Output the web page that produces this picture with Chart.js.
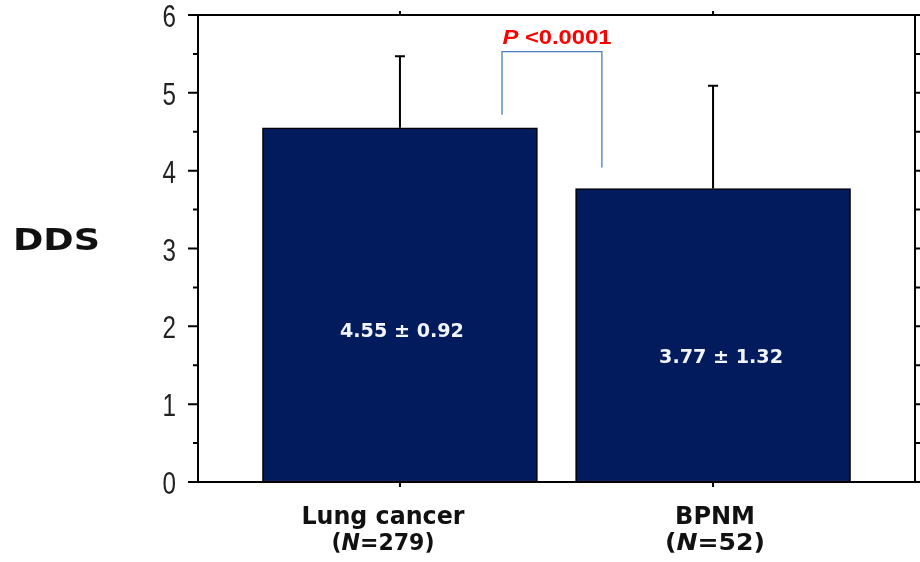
<!DOCTYPE html>
<html>
<head>
<meta charset="utf-8">
<script src="https://cdn.jsdelivr.net/npm/chart.js@4.4.1/dist/chart.umd.min.js"></script>
<style>
  html, body { margin: 0; padding: 0; background: #ffffff; }
  #wrap { width: 920px; height: 562px; position: relative; }
</style>
</head>
<body>
<div id="wrap"><canvas id="chart" width="920" height="562"></canvas></div>
<script>
// Group names, sample sizes, means and standard deviations of DDS
const categories = ['Lung cancer', 'BPNM'];
const sampleSizes = [279, 52];
const means = [4.55, 3.77];
const sds = [0.92, 1.32];
const yTickValues = [0, 1, 2, 3, 4, 5, 6];
const pValueText = '<0.0001';
const yTitle = 'DDS';

const BAR_FILL = '#021b5c';
const INK = '#000000';

// draws a sequence of text runs (each with its own font), stretched to a given width
function drawRuns(ctx, runs, cx, baseline, targetW, color) {
  ctx.save();
  ctx.fillStyle = color;
  ctx.textBaseline = 'alphabetic';
  ctx.textAlign = 'left';
  let total = 0;
  const widths = runs.map(r => { ctx.font = r.font; const w = ctx.measureText(r.t).width; total += w; return w; });
  const sx = targetW ? targetW / total : 1;
  ctx.translate(cx, baseline);
  ctx.scale(sx, 1);
  let x = -total / 2;
  runs.forEach((r, i) => { ctx.font = r.font; ctx.fillText(r.t, x, 0); x += widths[i]; });
  ctx.restore();
}

const decorations = {
  id: 'decorations',
  afterDatasetsDraw(chart) {
    const ctx = chart.ctx;
    const xs = chart.scales.x, ys = chart.scales.y;
    const area = chart.chartArea;

    // error bars (upper whisker only)
    ctx.save();
    ctx.strokeStyle = INK;
    ctx.lineWidth = 2;
    means.forEach((m, i) => {
      const px = xs.getPixelForValue(i);
      const yTop = ys.getPixelForValue(m + sds[i]);
      const yBar = ys.getPixelForValue(m);
      ctx.beginPath();
      ctx.moveTo(px, yBar); ctx.lineTo(px, yTop);
      ctx.moveTo(px - 5, yTop); ctx.lineTo(px + 5, yTop);
      ctx.stroke();
    });
    ctx.restore();

    // mean ± SD labels inside the bars
    const valueShift = [2, 8];
    means.forEach((m, i) => {
      const px = xs.getPixelForValue(i) + valueShift[i];
      const py = ys.getPixelForValue(m * 0.43) + 7;
      drawRuns(ctx, [{ t: m.toFixed(2) + ' \u00b1 ' + sds[i].toFixed(2), font: 'bold 19px "DejaVu Sans"' }],
        px, py, 124, '#f2f5ff');
    });

    // significance bracket
    ctx.save();
    ctx.strokeStyle = '#4a7cc0';
    ctx.lineWidth = 1.3;
    const bx1 = xs.getPixelForValue(0.326), bx2 = xs.getPixelForValue(0.645);
    const byTop = ys.getPixelForValue(5.53);
    ctx.beginPath();
    ctx.moveTo(bx1, ys.getPixelForValue(4.72));
    ctx.lineTo(bx1, byTop);
    ctx.lineTo(bx2, byTop);
    ctx.lineTo(bx2, ys.getPixelForValue(4.04));
    ctx.stroke();
    ctx.restore();
    drawRuns(ctx, [
      { t: 'P ', font: 'italic bold 20px "Liberation Sans"' },
      { t: pValueText, font: 'bold 20px "Liberation Sans"' }
    ], (bx1 + bx2) / 2 + 5, byTop - 8, 109, '#ff0000');

    // plot frame
    ctx.save();
    ctx.strokeStyle = INK;
    ctx.lineWidth = 2;
    ctx.strokeRect(area.left, area.top, area.right - area.left, area.bottom - area.top);

    // left axis: long ticks on integers, short ticks on halves, both outside
    ctx.beginPath();
    for (let v = 0; v <= 6; v += 0.5) {
      const py = ys.getPixelForValue(v);
      const len = Number.isInteger(v) ? 10 : 5;
      ctx.moveTo(area.left - len, py); ctx.lineTo(area.left, py);
      // right axis ticks every half unit, outside
      ctx.moveTo(area.right, py); ctx.lineTo(area.right + 5, py);
    }
    // top and bottom ticks at each group
    categories.forEach((c, i) => {
      const px = xs.getPixelForValue(i);
      ctx.moveTo(px, area.top); ctx.lineTo(px, area.top - 4);
      ctx.moveTo(px, area.bottom); ctx.lineTo(px, area.bottom + 5);
    });
    ctx.stroke();
    ctx.restore();

    // y tick labels in a narrow face
    yTickValues.forEach(v => {
      const py = ys.getPixelForValue(v) + 12;
      ctx.save();
      ctx.font = '31px "Liberation Sans"';
      ctx.fillStyle = '#222222';
      ctx.textAlign = 'right';
      ctx.textBaseline = 'alphabetic';
      ctx.translate(176, py);
      ctx.scale(0.78, 1);
      ctx.fillText(String(v), 0, 0);
      ctx.restore();
    });

    // category labels with sample sizes
    const labelShift = [-17, 2];
    const nameWidths = [163, 80];
    const sizeWidths = [103, 100];
    categories.forEach((c, i) => {
      const px = xs.getPixelForValue(i) + labelShift[i];
      drawRuns(ctx, [{ t: c, font: 'bold 24px "DejaVu Sans"' }], px, area.bottom + 42, nameWidths[i], '#111111');
      drawRuns(ctx, [
        { t: '(', font: 'bold 23px "DejaVu Sans"' },
        { t: 'N', font: 'italic bold 23px "DejaVu Sans"' },
        { t: '=' + sampleSizes[i] + ')', font: 'bold 23px "DejaVu Sans"' }
      ], px, area.bottom + 68, sizeWidths[i], '#111111');
    });

    // y axis title
    drawRuns(ctx, [{ t: yTitle, font: 'bold 30px "DejaVu Sans"' }], 56.5, 250, 87, '#111111');
  }
};

new Chart(document.getElementById('chart'), {
  type: 'bar',
  data: {
    datasets: [{
      data: categories.map((c, i) => ({ x: i, y: means[i] })),
      backgroundColor: BAR_FILL,
      borderColor: INK,
      borderWidth: 1.5,
      borderSkipped: false,
      barThickness: 275
    }]
  },
  options: {
    responsive: false,
    animation: false,
    devicePixelRatio: 1,
    layout: { padding: { top: 15, right: 5, left: 0, bottom: 0 } },
    plugins: { legend: { display: false }, tooltip: { enabled: false } },
    scales: {
      x: {
        type: 'linear',
        min: -0.645,
        max: 1.645,
        offset: false,
        grid: { display: false },
        border: { display: false },
        ticks: { display: false },
        afterFit(scale) { scale.height = 80; scale.paddingLeft = 0; scale.paddingRight = 0; }
      },
      y: {
        min: 0,
        max: 6,
        grid: { display: false },
        border: { display: false },
        ticks: { display: false },
        afterFit(scale) { scale.width = 198; scale.paddingTop = 0; scale.paddingBottom = 0; }
      }
    }
  },
  plugins: [decorations]
});
</script>
</body>
</html>
